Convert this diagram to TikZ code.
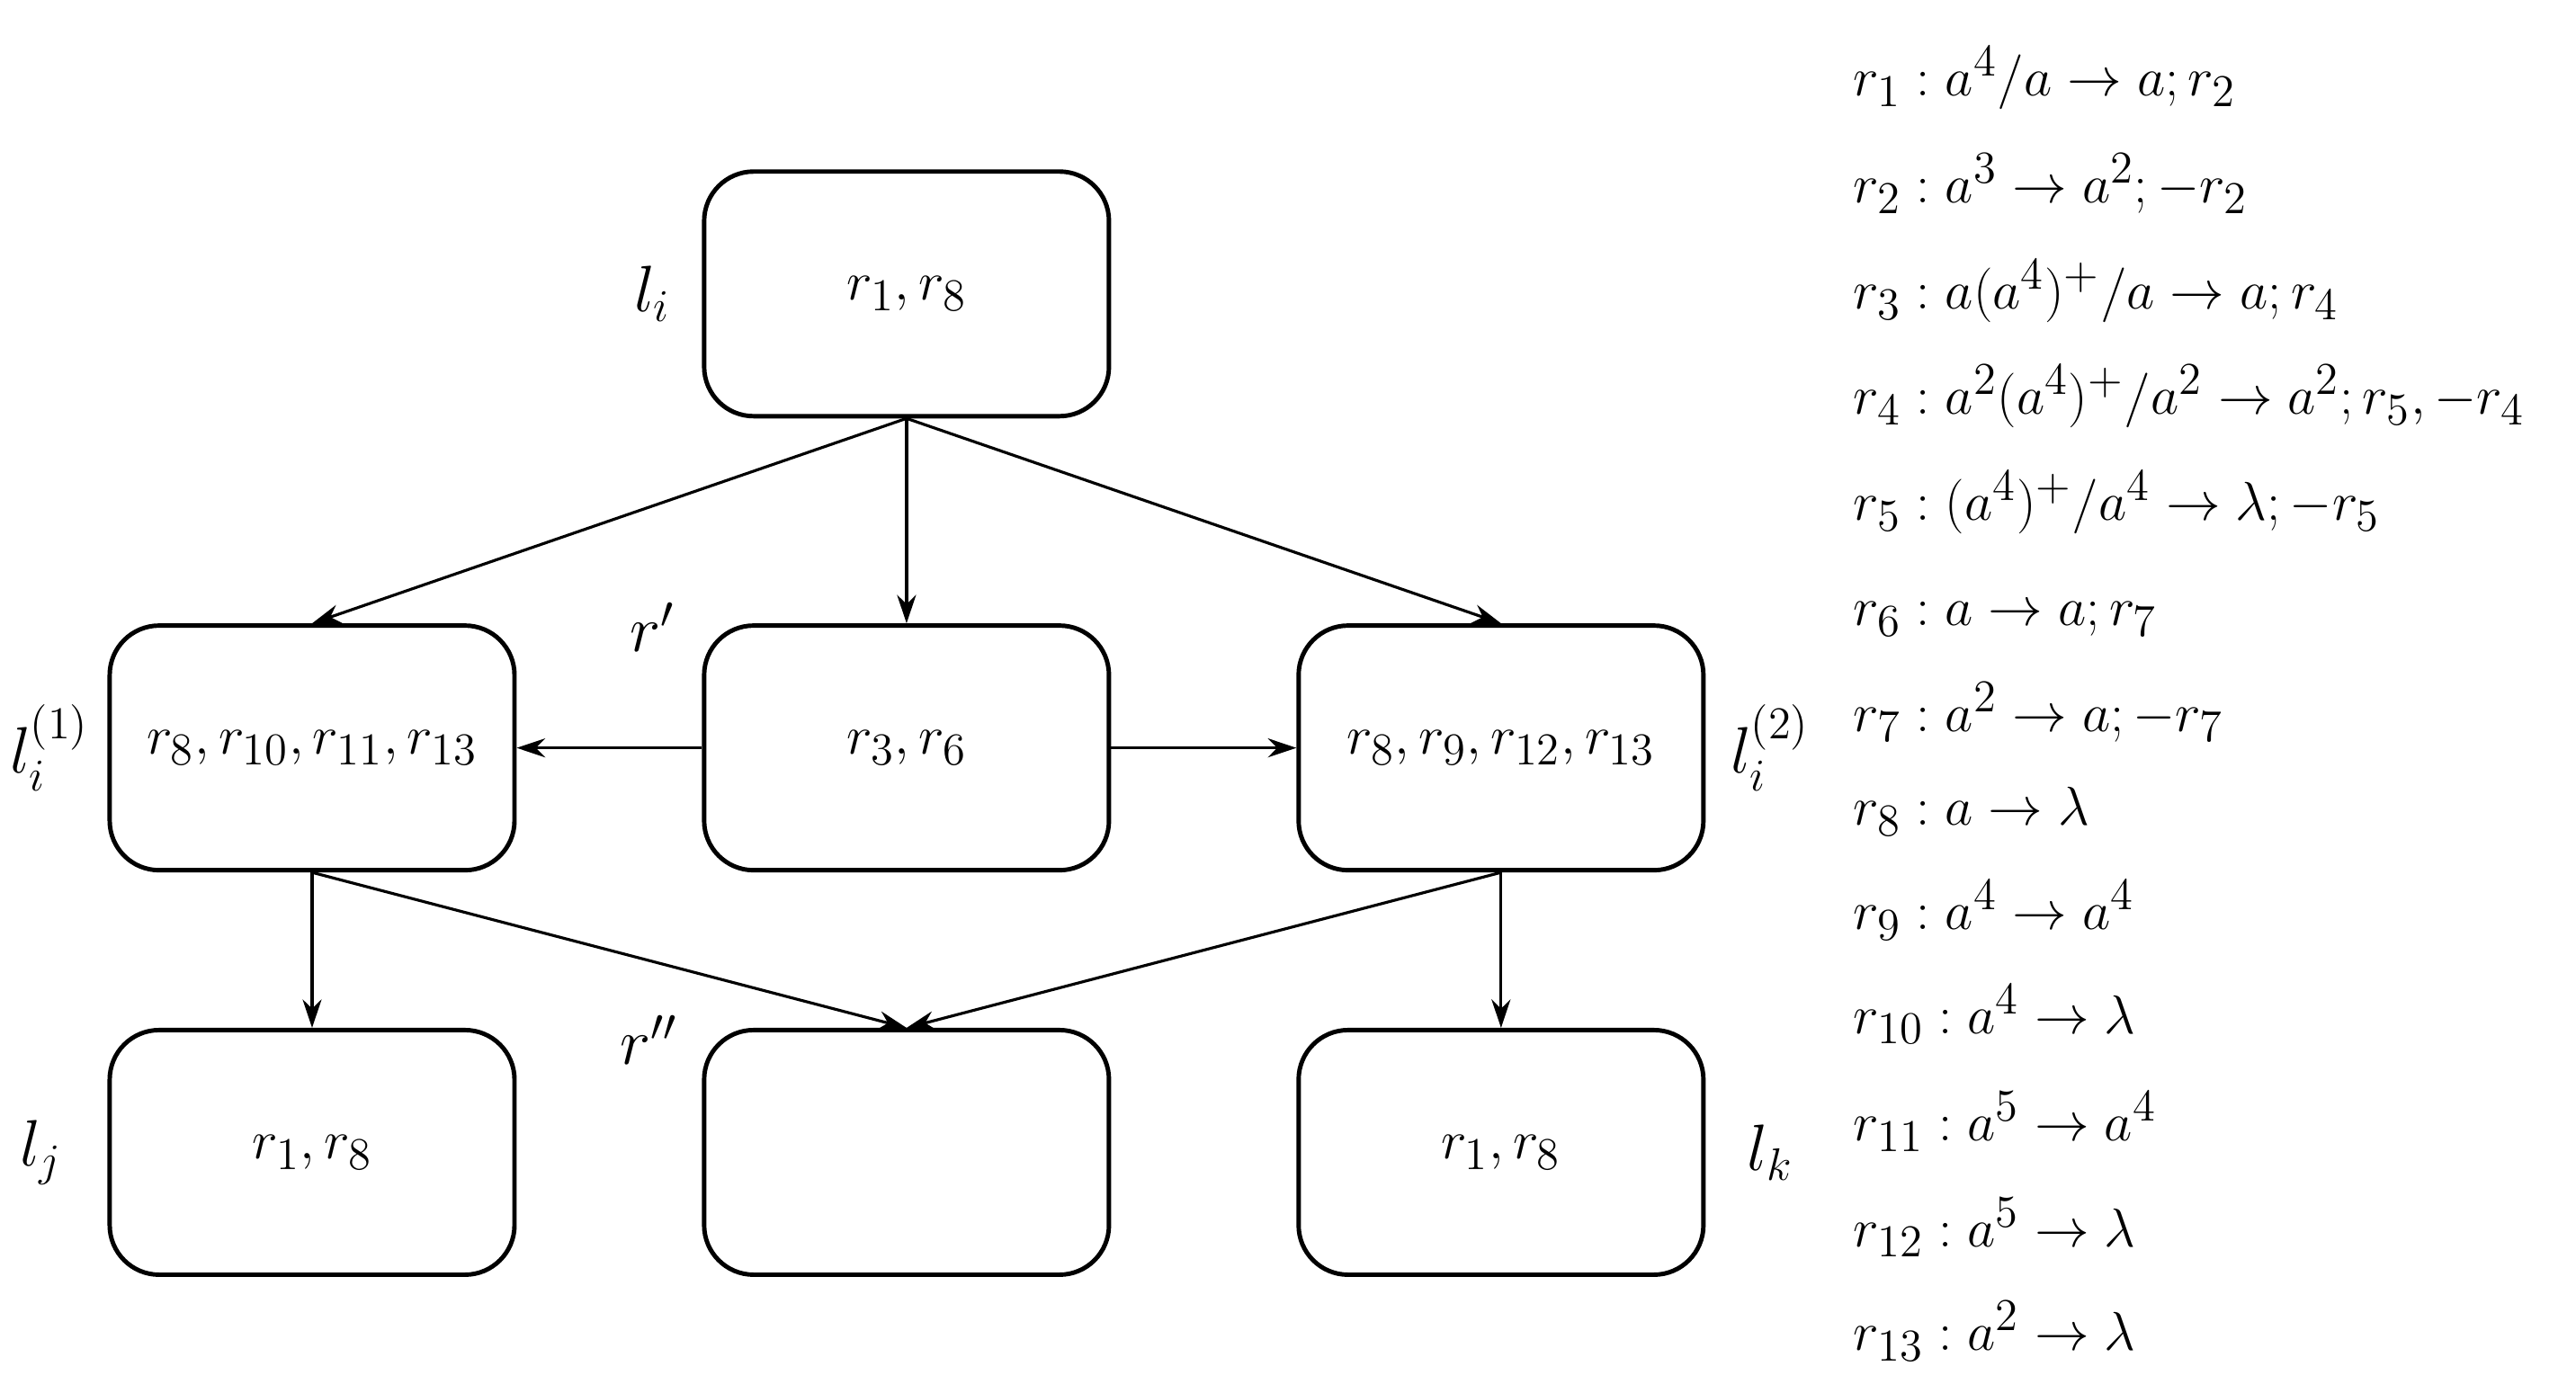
\documentclass[tikz,border=0pt]{standalone}
\usepackage{amsmath}
\usetikzlibrary{arrows.meta}
\begin{document}
\begin{tikzpicture}[x=0.01836cm,y=-0.01836cm,
  box/.style={draw,line width=1.4pt,rounded corners=0.55cm,minimum width=4.5cm,minimum height=2.72cm,font=\fontsize{19}{23}\selectfont},
  lab/.style={font=\fontsize{20}{24}\selectfont},
  rule/.style={anchor=base west,font=\fontsize{19}{23}\selectfont,inner sep=0pt},
  arr/.style={-{Stealth[length=9pt,width=6pt]},line width=0.9pt}]
\useasboundingbox (0,0) rectangle (1560,838);
\node[box] (t) at (549,178) {$r_1,r_8$};
\node[box] (ml) at (189,453) {$r_8,r_{10},r_{11},r_{13}$};
\node[box] (mm) at (549,453) {$r_3,r_6$};
\node[box] (mr) at (909,453) {$r_8,r_9,r_{12},r_{13}$};
\node[box] (bl) at (189,698) {$r_1,r_8$};
\node[box] (bm) at (549,698) {};
\node[box] (br) at (909,698) {$r_1,r_8$};
\draw[arr] (t.south) -- (ml.north);
\draw[arr] (t.south) -- (mm.north);
\draw[arr] (t.south) -- (mr.north);
\draw[arr] (mm.west) -- (ml.east);
\draw[arr] (mm.east) -- (mr.west);
\draw[arr] (ml.south) -- (bl.north);
\draw[arr] (mr.south) -- (br.north);
\draw[arr] (ml.south) -- (bm.north);
\draw[arr] (mr.south) -- (bm.north);
\node[lab] (l1) at (395,178) {$l_i$};
\node[lab] (l2) at (395,380) {$r'$};
\node[lab] (l3) at (30,453) {$l_i^{(1)}$};
\node[lab] (l4) at (1072,453) {$l_i^{(2)}$};
\node[lab] (l5) at (393,630) {$r''$};
\node[lab] (l6) at (25,698) {$l_j$};
\node[lab] (l7) at (1072,698) {$l_k$};
\node[rule] (q1) at (1122,58) {$r_1: a^4/a\to a; r_2$};
\node[rule] (q2) at (1122,123) {$r_2: a^3\to a^2; -r_2$};
\node[rule] (q3) at (1122,187) {$r_3: a(a^4)^+/a\to a; r_4$};
\node[rule] (q4) at (1122,251) {$r_4: a^2(a^4)^+/a^2\to a^2; r_5,-r_4$};
\node[rule] (q5) at (1122,315) {$r_5: (a^4)^+/a^4\to \lambda; -r_5$};
\node[rule] (q6) at (1122,379) {$r_6: a\to a; r_7$};
\node[rule] (q7) at (1122,443) {$r_7: a^2\to a; -r_7$};
\node[rule] (q8) at (1122,500) {$r_8: a\to \lambda$};
\node[rule] (q9) at (1122,563) {$r_9: a^4\to a^4$};
\node[rule] (q10) at (1122,626) {$r_{10}: a^4\to \lambda$};
\node[rule] (q11) at (1122,691) {$r_{11}: a^5\to a^4$};
\node[rule] (q12) at (1122,755) {$r_{12}: a^5\to \lambda$};
\node[rule] (q13) at (1122,818) {$r_{13}: a^2\to \lambda$};
\end{tikzpicture}
\end{document}
